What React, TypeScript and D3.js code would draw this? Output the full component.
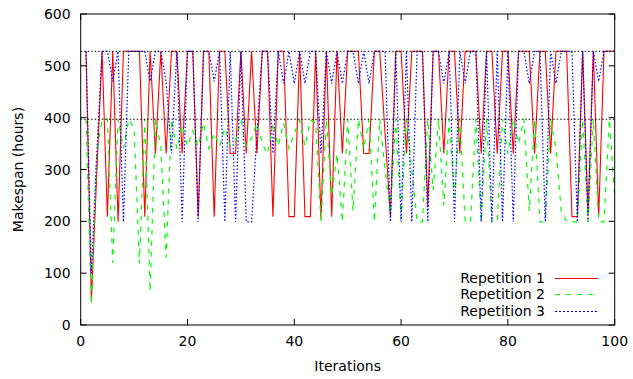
import React from "react";
import * as d3 from "d3";

const xTicks = [0, 20, 40, 60, 80, 100];
const yTicks = [0, 100, 200, 300, 400, 500, 600];
const refLines = [528, 397];
const seriesNames = ["Repetition 1", "Repetition 2", "Repetition 3"];

const rep1 = [
  528, 45, 290, 528, 209, 528, 199, 528, 528, 528,
  528, 209, 528, 331, 528, 331, 528, 528, 331, 528,
  528, 209, 528, 528, 209, 528, 528, 331, 331, 528,
  331, 528, 331, 528, 528, 209, 528, 528, 209, 209,
  528, 209, 209, 528, 205, 528, 209, 528, 331, 528,
  528, 528, 331, 331, 528, 528, 370, 209, 528, 528,
  331, 528, 528, 528, 228, 528, 528, 331, 528, 528,
  331, 528, 528, 528, 331, 528, 528, 331, 528, 528,
  331, 528, 528, 528, 331, 528, 528, 331, 528, 528,
  528, 209, 209, 528, 215, 528, 209, 528, 528, 528,
];

const rep2 = [
  397, 40, 330, 397, 397, 120, 397, 340, 397, 380,
  118, 397, 65, 397, 345, 130, 397, 340, 385, 345,
  375, 345, 390, 340, 370, 345, 380, 345, 355, 395,
  345, 360, 390, 350, 330, 390, 345, 390, 340, 370,
  395, 345, 395, 390, 199, 397, 250, 330, 199, 397,
  220, 397, 340, 397, 199, 397, 300, 215, 397, 205,
  397, 300, 199, 199, 397, 260, 397, 230, 397, 250,
  397, 199, 199, 397, 199, 397, 199, 199, 397, 330,
  397, 350, 397, 220, 397, 199, 199, 397, 340, 220,
  199, 199, 199, 397, 199, 397, 199, 199, 397, 250,
];

const rep3 = [
  528, 100, 330, 528, 528, 470, 528, 199, 528, 528,
  528, 528, 470, 528, 528, 470, 331, 528, 199, 528,
  528, 199, 528, 528, 470, 528, 199, 528, 199, 528,
  199, 199, 370, 528, 528, 331, 528, 466, 528, 466,
  528, 466, 528, 528, 331, 528, 466, 528, 466, 528,
  528, 466, 528, 466, 528, 528, 528, 199, 528, 199,
  528, 199, 528, 528, 199, 528, 528, 466, 528, 199,
  528, 466, 528, 528, 199, 528, 199, 528, 199, 528,
  199, 528, 528, 466, 528, 528, 199, 528, 466, 528,
  528, 528, 199, 528, 199, 528, 470, 528, 528, 528,
];

const colors = ["#ff0000", "#00ff00", "#0000ff"];
const dashes = ["none", "5,6", "1.5,2"];
const legendDashes = ["none", "5,6", "2,2"];

export default function App() {
  const W = 633, H = 379;
  const left = 80.7, right = 614.7, top = 14, bottom = 325;
  const x = d3.scaleLinear().domain([0, 100]).range([left, right]);
  const y = d3.scaleLinear().domain([0, 600]).range([bottom, top]);
  const line = d3.line<number>().x((_, i) => x(i + 1)).y((d) => y(d));
  const all = [rep1, rep2, rep3];
  const font = "'DejaVu Sans', sans-serif";
  const fs = 14;
  const tl = 6;
  return (
    <svg width={W} height={H} style={{ position: "absolute", left: 0, top: 0, background: "#fff" }} fontFamily={font}>
      <rect x={0} y={0} width={W} height={H} fill="#fff" />
      <defs>
        <clipPath id="plot">
          <rect x={left} y={top} width={right - left} height={bottom - top} />
        </clipPath>
      </defs>
      <g clipPath="url(#plot)">
        {all.map((s, k) => (
          <path key={k} d={line(s) || ""} fill="none" stroke={colors[k]} strokeWidth={k === 0 ? 1.1 : 1.2} strokeDasharray={dashes[k]} />
        ))}
        {refLines.map((v) => (
          <line key={v} x1={left} x2={right} y1={y(v)} y2={y(v)} stroke="#000" strokeWidth={1} strokeDasharray="1.5,2" />
        ))}
      </g>
      {yTicks.map((t) => (
        <g key={"y" + t}>
          <line x1={left} x2={left + tl} y1={y(t)} y2={y(t)} stroke="#000" />
          <line x1={right} x2={right - tl} y1={y(t)} y2={y(t)} stroke="#000" />
          <text x={left - 10} y={y(t)} dy="0.36em" textAnchor="end" fontSize={fs} fill="#000">{t}</text>
        </g>
      ))}
      {xTicks.map((t) => (
        <g key={"x" + t}>
          <line x1={x(t)} x2={x(t)} y1={bottom} y2={bottom - tl} stroke="#000" />
          <line x1={x(t)} x2={x(t)} y1={top} y2={top + tl} stroke="#000" />
          <text x={x(t)} y={bottom + 21} textAnchor="middle" fontSize={fs} fill="#000">{t}</text>
        </g>
      ))}
      <rect x={left} y={top} width={right - left} height={bottom - top} fill="none" stroke="#000" strokeWidth={1} />
      <text x={(left + right) / 2} y={371} textAnchor="middle" fontSize={fs} fill="#000">Iterations</text>
      <text transform={`translate(23,${(top + bottom) / 2}) rotate(-90)`} textAnchor="middle" fontSize={fs} fill="#000">Makespan (hours)</text>
      {seriesNames.map((n, k) => {
        const ly = 277.5 + k * 16.5;
        const lyl = Math.round(ly) + 0.5;
        return (
          <g key={n}>
            <text x={545} y={ly} dy="0.36em" textAnchor="end" fontSize={fs} fill="#000">{n}</text>
            <line x1={555} x2={598} y1={lyl} y2={lyl} stroke={colors[k]} strokeWidth={1.2} strokeDasharray={legendDashes[k]} />
          </g>
        );
      })}
    </svg>
  );
}
